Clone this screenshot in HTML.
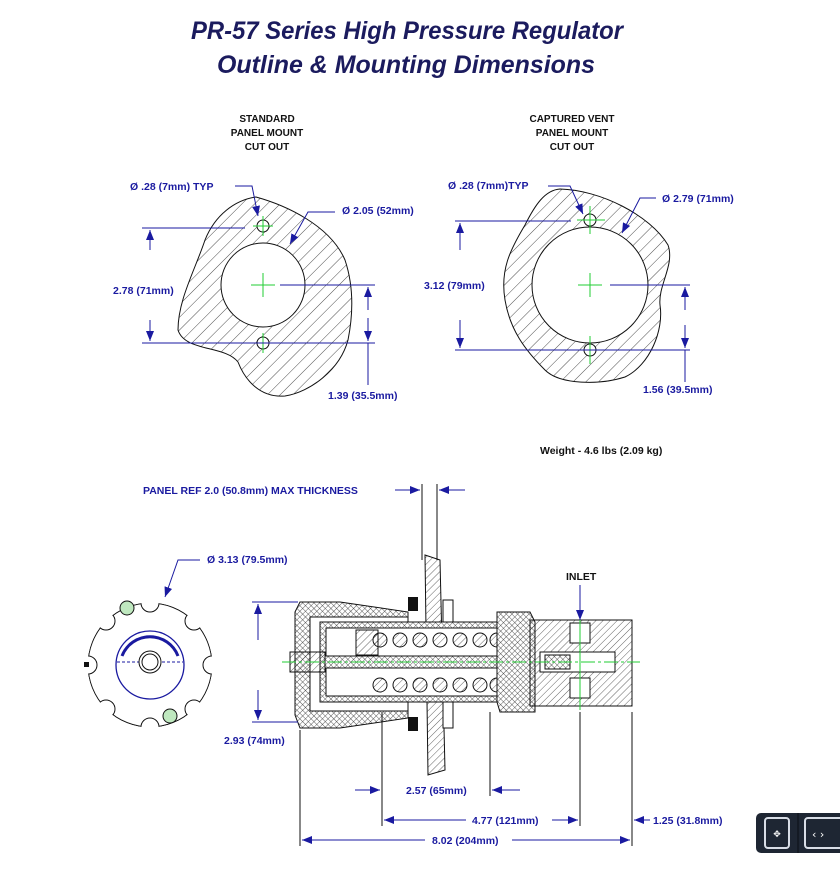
<!DOCTYPE html>
<html><head><meta charset="utf-8"><style>
html,body{margin:0;padding:0;background:#fff;}
svg{display:block;}
.t{font-family:"Liberation Sans",sans-serif;font-weight:bold;font-size:10.5px;fill:#1a1aa0;}
.h{font-family:"Liberation Sans",sans-serif;font-weight:bold;font-size:10px;fill:#111;text-anchor:middle;}
.d{stroke:#1a1aa0;stroke-width:1;fill:none;}
.k{stroke:#111;stroke-width:1;}
.g{stroke:#22cc33;stroke-width:1;}
</style></head><body>
<svg width="840" height="870" viewBox="0 0 840 870" xmlns="http://www.w3.org/2000/svg">
<defs>
<pattern id="hat" width="9" height="9" patternUnits="userSpaceOnUse" patternTransform="rotate(45)">
<line x1="0" y1="0" x2="0" y2="9" stroke="#222" stroke-width="0.8"/></pattern>
<pattern id="hat2" width="5" height="5" patternUnits="userSpaceOnUse" patternTransform="rotate(45)">
<line x1="0" y1="0" x2="0" y2="5" stroke="#222" stroke-width="0.7"/></pattern>
<pattern id="cross" width="4" height="4" patternUnits="userSpaceOnUse" patternTransform="rotate(45)">
<rect width="4" height="4" fill="#fff"/><line x1="0" y1="0" x2="0" y2="4" stroke="#333" stroke-width="0.8"/><line x1="0" y1="0" x2="4" y2="0" stroke="#333" stroke-width="0.8"/></pattern>
<marker id="a" markerWidth="10" markerHeight="8" refX="10" refY="4" orient="auto" markerUnits="userSpaceOnUse"><path d="M0,0 L10,4 L0,8 z" fill="#1a1aa0"/></marker>
</defs>

<text x="407" y="39" text-anchor="middle" font-family="Liberation Sans,sans-serif" font-style="italic" font-weight="bold" font-size="25" fill="#1b1b5e" textLength="432" lengthAdjust="spacingAndGlyphs">PR-57 Series High Pressure Regulator</text>
<text x="406" y="73" text-anchor="middle" font-family="Liberation Sans,sans-serif" font-style="italic" font-weight="bold" font-size="25" fill="#1b1b5e" textLength="378" lengthAdjust="spacingAndGlyphs">Outline &amp; Mounting Dimensions</text>

<text class="h" x="267" y="122">STANDARD</text><text class="h" x="267" y="136">PANEL MOUNT</text><text class="h" x="267" y="150">CUT OUT</text>
<text class="h" x="572" y="122">CAPTURED VENT</text><text class="h" x="572" y="136">PANEL MOUNT</text><text class="h" x="572" y="150">CUT OUT</text>

<!-- left cutout -->
<path d="M256,197 C285,205 330,225 345,260 C355,290 352,320 348,340 C340,370 310,392 285,396 C260,398 245,380 238,362 C225,345 185,352 178,330 C178,300 195,270 205,240 C215,215 235,200 256,197 Z" fill="url(#hat)" stroke="#111"/>
<circle cx="263" cy="285" r="42" fill="#fff" class="k"/>
<circle cx="263" cy="226" r="6" fill="#fff" class="k"/><circle cx="263" cy="343" r="6" fill="#fff" class="k"/>
<g class="g"><line x1="251" y1="285" x2="275" y2="285"/><line x1="263" y1="273" x2="263" y2="297"/>
<line x1="253" y1="226" x2="273" y2="226"/><line x1="263" y1="216" x2="263" y2="236"/>
<line x1="253" y1="343" x2="273" y2="343"/><line x1="263" y1="333" x2="263" y2="353"/></g>
<g class="d"><line x1="142" y1="228" x2="245" y2="228"/><line x1="142" y1="343" x2="375" y2="343"/>
<line x1="150" y1="250" x2="150" y2="230" marker-end="url(#a)"/><line x1="150" y1="320" x2="150" y2="341" marker-end="url(#a)"/>
<line x1="280" y1="285" x2="375" y2="285"/>
<line x1="368" y1="310" x2="368" y2="287" marker-end="url(#a)"/><line x1="368" y1="318" x2="368" y2="341" marker-end="url(#a)"/><line x1="368" y1="343" x2="368" y2="385"/>
<polyline points="235,186 252,186 258,216" marker-end="url(#a)"/>
<polyline points="335,212 308,212 290,244" marker-end="url(#a)"/></g>
<text class="t" x="130" y="190">Ø .28 (7mm) TYP</text>
<text class="t" x="342" y="214">Ø 2.05 (52mm)</text>
<text class="t" x="113" y="294">2.78 (71mm)</text>
<text class="t" x="328" y="399">1.39 (35.5mm)</text>

<!-- right cutout -->
<path d="M560,189 C600,190 650,215 668,245 C675,265 658,285 660,305 C664,330 650,365 625,377 C600,385 560,385 545,370 C525,350 510,330 505,300 C500,270 510,250 525,225 C535,205 545,190 560,189 Z" fill="url(#hat)" stroke="#111"/>
<circle cx="590" cy="285" r="58" fill="#fff" class="k"/>
<circle cx="590" cy="220" r="6" fill="#fff" class="k"/><circle cx="590" cy="350" r="6" fill="#fff" class="k"/>
<g class="g"><line x1="578" y1="285" x2="602" y2="285"/><line x1="590" y1="273" x2="590" y2="297"/>
<line x1="577" y1="220" x2="605" y2="220"/><line x1="590" y1="206" x2="590" y2="234"/>
<line x1="577" y1="350" x2="605" y2="350"/><line x1="590" y1="336" x2="590" y2="364"/></g>
<g class="d"><line x1="455" y1="221" x2="571" y2="221"/><line x1="455" y1="350" x2="690" y2="350"/>
<line x1="460" y1="250" x2="460" y2="223" marker-end="url(#a)"/><line x1="460" y1="320" x2="460" y2="348" marker-end="url(#a)"/>
<line x1="610" y1="285" x2="690" y2="285"/>
<line x1="685" y1="310" x2="685" y2="287" marker-end="url(#a)"/><line x1="685" y1="325" x2="685" y2="348" marker-end="url(#a)"/><line x1="685" y1="350" x2="685" y2="382"/>
<polyline points="548,186 570,186 583,214" marker-end="url(#a)"/>
<polyline points="656,198 640,198 622,233" marker-end="url(#a)"/></g>
<text class="t" x="448" y="189">Ø .28 (7mm)TYP</text>
<text class="t" x="662" y="202">Ø 2.79 (71mm)</text>
<text class="t" x="424" y="289">3.12 (79mm)</text>
<text class="t" x="643" y="393">1.56 (39.5mm)</text>

<text x="540" y="454" font-family="Liberation Sans,sans-serif" font-weight="bold" font-size="10.5" fill="#111">Weight - 4.6 lbs (2.09 kg)</text>

<!-- panel ref -->
<text class="t" x="143" y="494">PANEL REF 2.0 (50.8mm) MAX THICKNESS</text>
<g class="d"><line x1="395" y1="490" x2="420" y2="490" marker-end="url(#a)"/><line x1="465" y1="490" x2="439" y2="490" marker-end="url(#a)"/>
<line x1="422" y1="484" x2="422" y2="560" stroke="#111"/><line x1="437" y1="484" x2="437" y2="560" stroke="#111"/></g>

<!-- knob front -->
<circle cx="150" cy="665" r="62" fill="#fff" class="k"/>
<g fill="#fff" class="k">
<circle cx="150" cy="603" r="9"/><circle cx="194" cy="621" r="9"/><circle cx="212" cy="665" r="9"/><circle cx="194" cy="709" r="9"/><circle cx="150" cy="727" r="9"/><circle cx="106" cy="709" r="9"/><circle cx="88" cy="665" r="9"/><circle cx="106" cy="621" r="9"/></g>
<circle cx="150" cy="665" r="75" fill="none" stroke="#fff" stroke-width="25"/>
<circle cx="150" cy="665" r="34" fill="#fff" stroke="#1a1aa0" stroke-width="1.3"/>
<path d="M122,656 A30,30 0 0 1 178,656" fill="none" stroke="#1a1aa0" stroke-width="3"/>
<line x1="117" y1="662" x2="183" y2="662" stroke="#1a1aa0" stroke-dasharray="3,2"/>
<circle cx="150" cy="662" r="11" fill="#fff" class="k"/><circle cx="150" cy="662" r="8" fill="#fff" class="k"/>
<circle cx="127" cy="608" r="7" fill="#bfe8bf" class="k"/><circle cx="170" cy="716" r="7" fill="#bfe8bf" class="k"/>
<rect x="84" y="662" width="5" height="5" fill="#111"/>
<g class="d"><polyline points="200,560 178,560 165,597" marker-end="url(#a)"/></g>
<text class="t" x="207" y="563">Ø 3.13 (79.5mm)</text>

<!-- side view -->
<path d="M425,555 L440,560 L445,770 L428,775 Z" fill="url(#hat2)" stroke="#111"/>
<rect x="408" y="597" width="10" height="14" fill="#111"/><rect x="408" y="717" width="10" height="14" fill="#111"/>
<rect x="443" y="600" width="10" height="28" fill="#fff" class="k"/><rect x="443" y="700" width="10" height="28" fill="#fff" class="k"/>
<path d="M300,602 L340,602 L408,612 L408,718 L340,728 L300,728 L295,715 L295,612 Z" fill="url(#cross)" stroke="#111"/>
<rect x="310" y="617" width="98" height="94" fill="#fff" class="k"/>
<rect x="320" y="622" width="195" height="80" fill="url(#cross)" stroke="#111"/>
<rect x="326" y="628" width="183" height="68" fill="#fff" class="k"/>
<g fill="url(#hat2)" class="k">
<circle cx="380" cy="640" r="7"/><circle cx="400" cy="640" r="7"/><circle cx="420" cy="640" r="7"/><circle cx="440" cy="640" r="7"/><circle cx="460" cy="640" r="7"/><circle cx="480" cy="640" r="7"/><circle cx="497" cy="640" r="7"/>
<circle cx="380" cy="685" r="7"/><circle cx="400" cy="685" r="7"/><circle cx="420" cy="685" r="7"/><circle cx="440" cy="685" r="7"/><circle cx="460" cy="685" r="7"/><circle cx="480" cy="685" r="7"/><circle cx="497" cy="685" r="7"/>
<rect x="356" y="630" width="22" height="25"/>
</g>
<rect x="290" y="652" width="35" height="20" fill="url(#hat2)" class="k"/>
<rect x="325" y="656" width="210" height="12" fill="url(#cross)" stroke="#111"/>
<path d="M497,612 L530,612 L535,622 L535,712 L500,712 L497,702 Z" fill="url(#cross)" stroke="#111"/>
<rect x="530" y="620" width="102" height="86" fill="url(#hat2)" stroke="#111"/>
<rect x="570" y="623" width="20" height="20" fill="#fff" class="k"/>
<rect x="570" y="678" width="20" height="20" fill="#fff" class="k"/>
<rect x="540" y="652" width="75" height="20" fill="#fff" class="k"/>
<rect x="545" y="655" width="25" height="14" fill="url(#cross)" stroke="#111"/>
<line x1="282" y1="662" x2="640" y2="662" class="g" stroke-dasharray="14,3,3,3"/>
<line x1="580" y1="615" x2="580" y2="710" class="g"/>

<text x="566" y="580" font-family="Liberation Sans,sans-serif" font-weight="bold" font-size="10.5" fill="#111">INLET</text>
<line x1="580" y1="585" x2="580" y2="620" class="d" marker-end="url(#a)"/>

<!-- dims -->
<g class="d">
<line x1="252" y1="602" x2="298" y2="602"/><line x1="252" y1="722" x2="298" y2="722"/>
<line x1="258" y1="640" x2="258" y2="604" marker-end="url(#a)"/><line x1="258" y1="690" x2="258" y2="720" marker-end="url(#a)"/>
<line x1="382" y1="712" x2="382" y2="826" stroke="#111"/><line x1="490" y1="712" x2="490" y2="796" stroke="#111"/>
<line x1="580" y1="712" x2="580" y2="826" stroke="#111"/><line x1="632" y1="712" x2="632" y2="846" stroke="#111"/>
<line x1="300" y1="730" x2="300" y2="846" stroke="#111"/>
<line x1="355" y1="790" x2="380" y2="790" marker-end="url(#a)"/><line x1="520" y1="790" x2="492" y2="790" marker-end="url(#a)"/>
<line x1="466" y1="820" x2="384" y2="820" marker-end="url(#a)"/><line x1="552" y1="820" x2="578" y2="820" marker-end="url(#a)"/>
<line x1="650" y1="820" x2="634" y2="820" marker-end="url(#a)"/>
<line x1="425" y1="840" x2="302" y2="840" marker-end="url(#a)"/><line x1="512" y1="840" x2="630" y2="840" marker-end="url(#a)"/>
</g>
<text class="t" x="224" y="744">2.93 (74mm)</text>
<text class="t" x="406" y="794">2.57 (65mm)</text>
<text class="t" x="472" y="824">4.77 (121mm)</text>
<text class="t" x="653" y="824">1.25 (31.8mm)</text>
<text class="t" x="432" y="844">8.02 (204mm)</text>

<!-- nav icons -->
<rect x="756" y="813" width="90" height="40" rx="5" fill="#1e2633"/>
<line x1="798" y1="813" x2="798" y2="853" stroke="#0a0e14"/>
<rect x="765" y="818" width="24" height="30" rx="3" fill="none" stroke="#d8dde6" stroke-width="2"/>
<text x="777" y="837" text-anchor="middle" font-family="DejaVu Sans,sans-serif" font-size="9" fill="#fff">✥</text>
<rect x="805" y="818" width="40" height="30" rx="3" fill="none" stroke="#d8dde6" stroke-width="2"/>
<text x="812" y="838" font-family="DejaVu Sans,sans-serif" font-size="11" fill="#fff">‹  ›</text>
</svg>
</body></html>
